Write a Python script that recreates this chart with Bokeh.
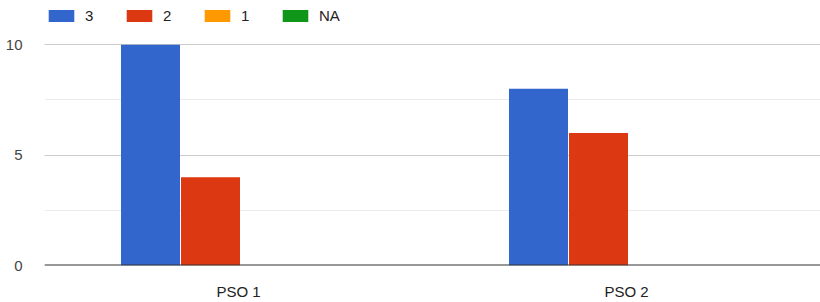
from bokeh.plotting import figure
from bokeh.models import ColumnDataSource, Legend, LegendItem, Span, SingleIntervalTicker
from bokeh.transform import dodge
from bokeh.embed import file_html
from bokeh.resources import INLINE

categories = ["PSO 1", "PSO 2"]
series_names = ["3", "2", "1", "NA"]
vals_3 = [10, 8]
vals_2 = [4, 6]
vals_1 = [0, 0]
vals_na = [0, 0]
colors = ["#3366cc", "#dc3912", "#ff9900", "#109618"]

source = ColumnDataSource(dict(cat=categories, s3=vals_3, s2=vals_2, s1=vals_1, sna=vals_na))

p = figure(x_range=categories, y_range=(0, 12), width=820, height=302,
           output_backend="svg", toolbar_location=None,
           min_border_left=44, min_border_right=0, min_border_top=0, min_border_bottom=36)

cw = 388.0
bw = 60 / cw
cols = ["s3", "s2", "s1", "sna"]
offsets = [-1.5 * bw, -0.5 * bw, 0.5 * bw, 1.5 * bw]
renderers = []
for c, off, col in zip(cols, offsets, colors):
    r = p.vbar(x=dodge("cat", off + 2 / cw, range=p.x_range), top=c, width=bw - 1 / cw,
               source=source, fill_color=col, line_color=None)
    renderers.append(r)

p.add_layout(Span(location=0, dimension="width", line_color="#333333", line_width=2))

p.outline_line_color = None
p.xgrid.grid_line_color = None
p.yaxis.ticker = SingleIntervalTicker(interval=5, num_minor_ticks=2)
p.ygrid.grid_line_color = "#cccccc"
p.ygrid.minor_grid_line_color = "#ebebeb"

for ax in (p.xaxis, p.yaxis):
    ax.axis_line_color = None
    ax.major_tick_line_color = None
    ax.minor_tick_line_color = None
    ax.major_label_text_font = "Liberation Sans"
    ax.major_label_text_font_size = "15px"
p.yaxis.major_label_text_color = "#444444"
p.xaxis.major_label_text_color = "#222222"
p.yaxis.major_label_standoff = 16
p.xaxis.major_label_standoff = 11

legend = Legend(items=[LegendItem(label=n, renderers=[r]) for n, r in zip(series_names, renderers)],
                orientation="horizontal", location=(1, 241),
                glyph_width=32, glyph_height=15, label_standoff=8, label_width=20, spacing=18,
                padding=0, margin=0, border_line_color=None, background_fill_alpha=0,
                label_text_font="Liberation Sans", label_text_font_size="15px",
                label_text_color="#222222", label_height=15)
p.add_layout(legend)

open("out.html", "w").write(file_html(p, INLINE))
